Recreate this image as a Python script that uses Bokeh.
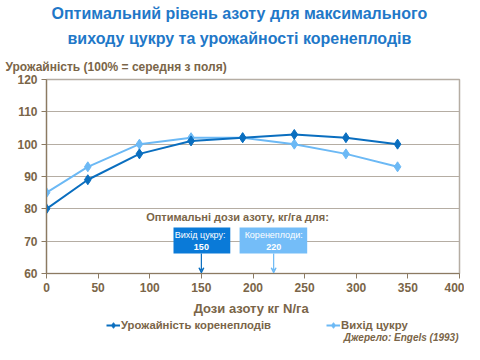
from bokeh.plotting import figure
from bokeh.layouts import column
from bokeh.models import (Label, Arrow, VeeHead, FixedTicker, Range1d, Title,
                          Legend, LegendItem)
from bokeh.embed import file_html
from bokeh.resources import INLINE

# data
n_dose = [0, 40, 90, 140, 190, 240, 290, 340]
root_yield = [80, 89, 97, 101, 102, 103, 102, 100]
sugar_yield = [85, 93, 100, 102, 102, 100, 97, 93]
series_names = ["Урожайність коренеплодів", "Вихід цукру"]
opt_doses = [150, 220]
opt_labels = ["Вихід  цукру:", "Коренеплоди:"]
x_ticks = [0, 50, 100, 150, 200, 250, 300, 350, 400]
y_ticks = [60, 70, 80, 90, 100, 110, 120]

DARK = "#0A6EBF"
LIGHT = "#6CB9F5"
BOX_DARK = "#0A7AD8"
BOX_LIGHT = "#74BDF8"
BROWN = "#7A6548"
GRID = "#B5ADA3"
FONT = "Liberation Sans"

p = figure(width=464, height=318, output_backend="svg", toolbar_location=None,
           x_range=Range1d(0, 400), y_range=Range1d(60, 120),
           min_border_left=46, min_border_right=5, min_border_top=0,
           min_border_bottom=44)
p.outline_line_color = GRID
p.outline_line_width = 1.5
p.background_fill_color = "white"
p.border_fill_color = "white"

p.xgrid.grid_line_color = None
p.ygrid.grid_line_color = GRID
p.ygrid.grid_line_width = 1.2

for ax in (p.xaxis, p.yaxis):
    ax.axis_line_color = "#8C7A62"
    ax.axis_line_width = 1.2
    ax.major_tick_line_color = "#8C7A62"
    ax.minor_tick_line_color = None
    ax.major_tick_out = 5
    ax.major_tick_in = 0
    ax.major_label_text_font = FONT
    ax.major_label_text_font_style = "bold"
    ax.major_label_text_font_size = "12px"
    ax.major_label_text_color = BROWN
p.xaxis.ticker = FixedTicker(ticks=x_ticks)
p.yaxis.ticker = FixedTicker(ticks=y_ticks)
p.xaxis.major_label_standoff = 4
p.yaxis.major_label_standoff = 4
p.xaxis.axis_label = "Дози азоту  кг N/га"
p.xaxis.axis_label_text_font = FONT
p.xaxis.axis_label_text_font_size = "13px"
p.xaxis.axis_label_text_font_style = "bold"
p.xaxis.axis_label_text_color = BROWN
p.xaxis.axis_label_standoff = 6

# boxes for optimal doses
p.quad(left=[opt_doses[0] - 27, opt_doses[1] - 33],
       right=[opt_doses[0] + 28, opt_doses[1] + 32.5],
       bottom=[66.2, 66.2], top=[74.2, 74.2],
       fill_color=[BOX_DARK, BOX_LIGHT], line_color=None)

for d, lab, col in zip(opt_doses, opt_labels, [DARK, LIGHT]):
    p.add_layout(Arrow(end=VeeHead(size=5, line_color=col, line_width=1.2,
                                   fill_color=None),
                       x_start=d, y_start=66.2, x_end=d, y_end=60.2,
                       line_color=col, line_width=1.2))
    p.add_layout(Label(x=d, y=71.8, text=lab, text_align="center",
                       text_baseline="middle", text_font=FONT,
                       text_font_size="9px", text_color="white"))
    p.add_layout(Label(x=d, y=68.3, text=str(d), text_align="center",
                       text_baseline="middle", text_font=FONT,
                       text_font_size="9px", text_font_style="bold",
                       text_color="white"))

p.add_layout(Label(x=185, y=77.5, text="Оптимальні дози азоту, кг/га для:",
                   text_align="center", text_baseline="middle", text_font=FONT,
                   text_font_size="11px", text_font_style="bold",
                   text_color=BROWN))

p.line(n_dose, sugar_yield, line_color=LIGHT, line_width=2)
p.scatter(n_dose, sugar_yield, marker="diamond", size=10, fill_color=LIGHT,
          line_color=LIGHT)
p.line(n_dose, root_yield, line_color=DARK, line_width=2)
p.scatter(n_dose, root_yield, marker="diamond", size=10, fill_color=DARK,
          line_color=DARK)

# titles (first added "above" is nearest the frame)
p.add_layout(Title(text="Урожайність  (100% = середня з поля)", align="left",
                   offset=-41, standoff=12, text_font=FONT,
                   text_font_size="12px", text_font_style="bold",
                   text_color=BROWN), "above")
title_lines = ["Оптимальний рівень азоту для максимального",
               "виходу цукру та урожайності коренеплодів"]
for t, so, off in zip(reversed(title_lines), [9, 4], [21, 5]):
    p.add_layout(Title(text=t, align="left", offset=off, standoff=so,
                       text_font=FONT, text_font_size="16px",
                       text_font_style="bold", text_color="#1F78C8"), "above")

# legend strip under the chart (its frame is aligned with the chart's frame)
q = figure(width=464, height=26, output_backend="svg", toolbar_location=None,
           x_range=Range1d(0, 464), y_range=Range1d(0, 26),
           min_border_left=0, min_border_right=0, min_border_top=0,
           min_border_bottom=0, x_axis_type=None, y_axis_type=None)
q.outline_line_color = None
q.xgrid.grid_line_color = None
q.ygrid.grid_line_color = None
# legend-only renderers, kept outside the visible range
l1 = q.line([-20, -10], [-20, -20], line_color=DARK, line_width=2)
s1 = q.scatter([-20], [-20], marker="diamond", size=9, fill_color=DARK,
               line_color=DARK)
l2 = q.line([-20, -10], [-20, -20], line_color=LIGHT, line_width=2)
s2 = q.scatter([-20], [-20], marker="diamond", size=9, fill_color=LIGHT,
               line_color=LIGHT)
legend = Legend(items=[LegendItem(label=series_names[0], renderers=[l1, s1]),
                       LegendItem(label=series_names[1], renderers=[l2, s2])],
                orientation="horizontal", location=(60, 12), spacing=55,
                border_line_color=None, background_fill_alpha=0,
                label_text_font=FONT, label_text_font_size="11.3px",
                label_text_font_style="bold", label_text_color=BROWN,
                glyph_width=14, glyph_height=14, label_height=14,
                label_standoff=1, padding=0, margin=0)
q.add_layout(legend, "center")
q.add_layout(Label(x=412, y=7, x_units="screen", y_units="screen",
                   text="Джерело: Engels (1993)", text_align="right",
                   text_baseline="middle", text_font=FONT,
                   text_font_size="10px", text_font_style="bold italic",
                   text_color=BROWN))

layout = column(p, q, spacing=0)
open("out.html", "w").write(file_html(layout, INLINE))
